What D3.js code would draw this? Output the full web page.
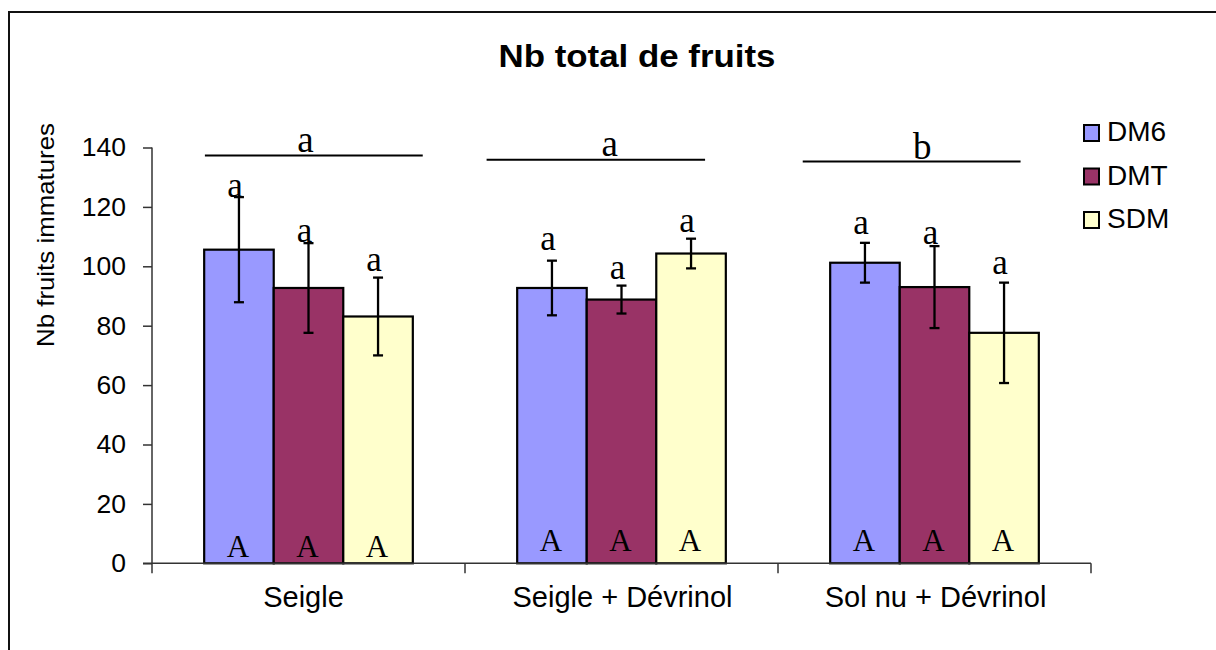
<!DOCTYPE html>
<html><head><meta charset="utf-8">
<script src="https://cdn.jsdelivr.net/npm/d3@7"></script>
<style>body{margin:0;background:#fff}svg{display:block}</style>
</head><body>
<script>
// ---- data ----
const categories = ["Seigle", "Seigle + Dévrinol", "Sol nu + Dévrinol"];
const series = ["DM6", "DMT", "SDM"];
const colors = ["#9999FF", "#993366", "#FFFFCC"];
const valuesDM6 = [105.6, 92.7, 101.2];
const valuesDMT = [92.7, 88.8, 93.0];
const valuesSDM = [83.1, 104.3, 77.6];
const errDM6 = [17.7, 9.2, 6.7];
const errDMT = [15.1, 4.7, 13.8];
const errSDM = [13.1, 5.0, 16.9];
const yTicks = [0, 20, 40, 60, 80, 100, 120, 140];
// letters above each bar and their heights (value units)
const lettersAbove = [["a","a","a"],["a","a","a"],["a","a","a"]];
const lettersAboveLevel = [[123.5,108.1,98.4],[105.6,95.8,111.5],[111.0,107.6,97.5]];
const lettersInside = [["A","A","A"],["A","A","A"],["A","A","A"]];
const lettersInsideLevel = [2.0, 4.0, 4.0];
// group comparison letters and bracket levels (value units)
const groupLetters = ["a", "a", "b"];
const groupLineLevel = [137.3, 135.9, 135.3];
const groupLetterLevel = [138.4, 137.3, 136.1];

const values = [valuesDM6, valuesDMT, valuesSDM];
const errs = [errDM6, errDMT, errSDM];

// ---- layout ----
const W = 1216, H = 650;
const plot = {left: 152, right: 1091, top: 147.5, bottom: 563.3};
const sans = "'Liberation Sans', Arial, sans-serif";
const serif = "'Liberation Serif', 'Times New Roman', serif";
const bracketStart = [0.169, 0.069, 0.079];
const bracketEnd = [0.865, 0.767, 0.775];
const groupLetterPos = [0.49, 0.462, 0.461];

const svg = d3.select("body").append("svg").attr("width", W).attr("height", H);

// outer frame
svg.append("rect").attr("x", 9).attr("y", 12).attr("width", 1400).attr("height", 800)
  .attr("fill", "none").attr("stroke", "#111").attr("stroke-width", 2);

const x0 = d3.scaleBand().domain(categories).range([plot.left, plot.right]).paddingInner(0).paddingOuter(0);
const bw = x0.bandwidth();
const x1 = d3.scaleBand().domain(series).range([bw * 0.1667, bw * 0.8333]).padding(0);
const y = d3.scaleLinear().domain([0, 140]).range([plot.bottom, plot.top]);

// title
svg.append("text").attr("x", 637).attr("y", 67).attr("text-anchor", "middle")
  .attr("font-family", sans).attr("font-weight", "bold").attr("font-size", 31)
  .attr("textLength", 277).attr("lengthAdjust", "spacingAndGlyphs")
  .text("Nb total de fruits");

// y axis
const yAxis = svg.append("g").attr("transform", `translate(${plot.left},0)`)
  .call(d3.axisLeft(y).tickValues(yTicks).tickSize(9).tickSizeOuter(0).tickPadding(17));
yAxis.select(".domain").remove();
yAxis.selectAll(".tick line").attr("stroke", "#333").attr("stroke-width", 1.5);
yAxis.selectAll(".tick text").attr("font-family", sans).attr("font-size", 26.5).attr("fill", "#000");
svg.append("line").attr("x1", plot.left).attr("x2", plot.left)
  .attr("y1", plot.top).attr("y2", plot.bottom + 10)
  .attr("stroke", "#333").attr("stroke-width", 1.5);

// y label
svg.append("text").attr("transform", "translate(54,235) rotate(-90)")
  .attr("text-anchor", "middle").attr("font-family", sans).attr("font-size", 24)
  .attr("textLength", 224).attr("lengthAdjust", "spacingAndGlyphs")
  .text("Nb fruits immatures");

// bars
const groups = svg.append("g").selectAll("g").data(categories).join("g")
  .attr("transform", d => `translate(${x0(d)},0)`);

groups.each(function(cat, ci) {
  const g = d3.select(this);
  series.forEach((s, si) => {
    const v = values[si][ci];
    const bx = x1(s), bww = x1.bandwidth();
    g.append("rect").attr("x", bx).attr("y", y(v)).attr("width", bww).attr("height", y(0) - y(v))
      .attr("fill", colors[si]).attr("stroke", "#000").attr("stroke-width", 2.2);
  });
});

// x axis
svg.append("line").attr("x1", plot.left - 9).attr("x2", plot.right)
  .attr("y1", plot.bottom).attr("y2", plot.bottom).attr("stroke", "#333").attr("stroke-width", 1.5);
const bounds = categories.map(c => x0(c) + bw);
svg.selectAll(".xt").data(bounds).join("line").attr("class", "xt")
  .attr("x1", d => d).attr("x2", d => d).attr("y1", plot.bottom).attr("y2", plot.bottom + 10)
  .attr("stroke", "#333").attr("stroke-width", 1.5);
svg.selectAll(".xl").data(categories).join("text").attr("class", "xl")
  .attr("x", d => x0(d) + bw / 2 + (d === "Seigle" ? -5 : 1)).attr("y", 607)
  .attr("text-anchor", "middle").attr("font-family", sans).attr("font-size", 29).text(d => d);

// error bars and letters
groups.each(function(cat, ci) {
  const g = d3.select(this);
  series.forEach((s, si) => {
    const v = values[si][ci], e = errs[si][ci];
    const cx = x1(s) + x1.bandwidth() / 2;
    g.append("line").attr("x1", cx).attr("x2", cx).attr("y1", y(v - e)).attr("y2", y(v + e))
      .attr("stroke", "#000").attr("stroke-width", 2.3);
    [v - e, v + e].forEach(t => g.append("line").attr("x1", cx - 5).attr("x2", cx + 5)
      .attr("y1", y(t)).attr("y2", y(t)).attr("stroke", "#000").attr("stroke-width", 2.3));
    g.append("text").attr("x", cx - 4).attr("y", y(lettersAboveLevel[ci][si]))
      .attr("text-anchor", "middle").attr("font-family", serif).attr("font-size", 35)
      .text(lettersAbove[ci][si]);
    g.append("text").attr("x", cx - 1).attr("y", y(lettersInsideLevel[ci]))
      .attr("text-anchor", "middle").attr("font-family", serif).attr("font-size", 31)
      .text(lettersInside[ci][si]);
  });
  g.append("line").attr("x1", bw * bracketStart[ci]).attr("x2", bw * bracketEnd[ci])
    .attr("y1", y(groupLineLevel[ci])).attr("y2", y(groupLineLevel[ci]))
    .attr("stroke", "#000").attr("stroke-width", 2);
  g.append("text").attr("x", bw * groupLetterPos[ci]).attr("y", y(groupLetterLevel[ci]))
    .attr("text-anchor", "middle").attr("font-family", serif).attr("font-size", 37)
    .text(groupLetters[ci]);
});

// legend
const leg = svg.append("g").selectAll("g").data(series).join("g")
  .attr("transform", (d, i) => `translate(1084,${141 + i * 43.5})`);
leg.append("rect").attr("x", 0).attr("y", -16).attr("width", 15).attr("height", 16)
  .attr("fill", (d, i) => colors[i]).attr("stroke", "#000").attr("stroke-width", 2);
leg.append("text").attr("x", 23).attr("y", 0).attr("font-family", sans).attr("font-size", 28).text(d => d);
</script>
</body></html>
